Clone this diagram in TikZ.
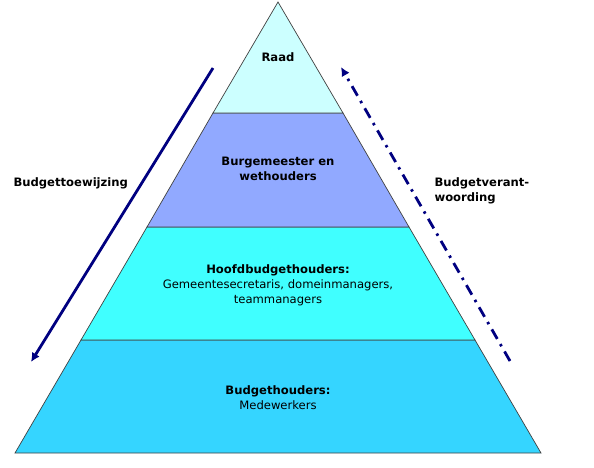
\documentclass[tikz,border=0pt]{standalone}
\usepackage{fontspec}
\setmainfont{DejaVu Sans}
\usetikzlibrary{arrows.meta}
\definecolor{raadkleur}{HTML}{CCFFFF}
\definecolor{bestuurkleur}{HTML}{91A9FF}
\definecolor{hoofdkleur}{HTML}{40FFFF}
\definecolor{budgetkleur}{HTML}{35D5FF}
\definecolor{pijlkleur}{HTML}{000080}

\begin{document}
\begin{tikzpicture}[x=1pt,y=-1pt,
	laag/.style={draw=black!75,line width=0.7pt},
	tekst/.style={align=center,font=\fontsize{11.6}{15}\selectfont},
	zij/.style={font=\bfseries\fontsize{11.6}{15}\selectfont,align=left,anchor=west},
	pijl/.style={pijlkleur,line width=2.8pt,-{Latex[length=9pt,width=9pt]}}]
	\useasboundingbox (0,0) rectangle (594,467);
	% lagen van de piramide
	\filldraw[laag,fill=budgetkleur] (81,340) -- (475,340) -- (541,453) -- (15,453) -- cycle;
	\filldraw[laag,fill=hoofdkleur]  (147,227) -- (409,227) -- (475,340) -- (81,340) -- cycle;
	\filldraw[laag,fill=bestuurkleur] (213,113) -- (343,113) -- (409,227) -- (147,227) -- cycle;
	\filldraw[laag,fill=raadkleur]   (278,2) -- (343,113) -- (213,113) -- cycle;
	% teksten
	\node[tekst] (raad) at (278,57) {\textbf{Raad}};
	\node[tekst] (bestuur) at (278,169) {\textbf{Burgemeester en}\\\textbf{wethouders}};
	\node[tekst] (hoofd) at (278,285) {\textbf{Hoofdbudgethouders:}\\Gemeentesecretaris, domeinmanagers,\\teammanagers};
	\node[tekst] (budget) at (278,398) {\textbf{Budgethouders:}\\Medewerkers};
	\node[zij] (toewijzing) at (10,183) {Budgettoewijzing};
	\node[zij] (verantwoording) at (431,191) {Budgetverant-\\woording};
	% pijlen
	\coordinate (ltop) at (213,68);
	\coordinate (lbot) at (31,362);
	\coordinate (rbot) at (510,361);
	\coordinate (rtop) at (341,67);
	\draw[pijl] (ltop) -- (lbot);
	\draw[pijl,dash pattern=on 11pt off 6pt on 2.5pt off 6pt] (rbot) -- (rtop);
\end{tikzpicture}
\end{document}
